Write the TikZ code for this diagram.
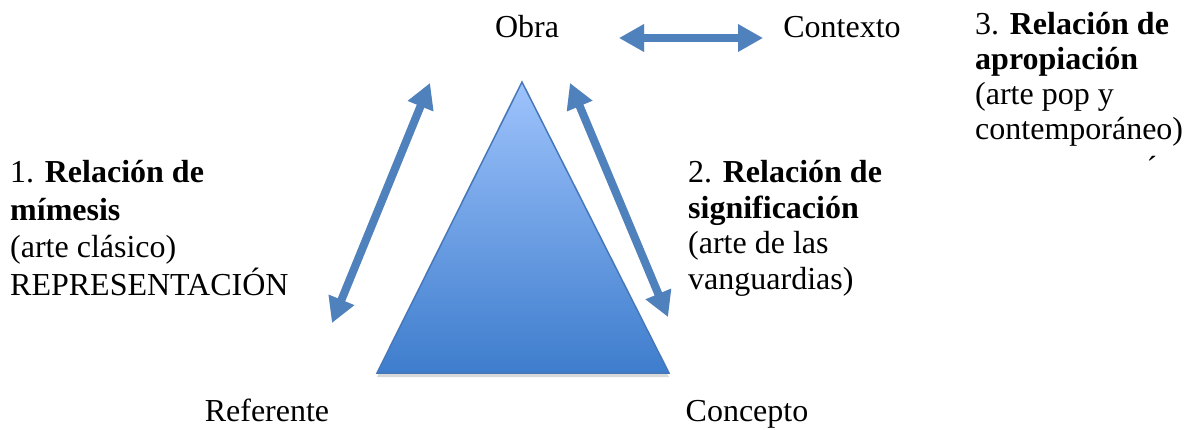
\documentclass[tikz,border=0pt]{standalone}
\usepackage{fontspec}
\setmainfont{Liberation Serif}
\usetikzlibrary{positioning}
\usetikzlibrary{arrows.meta,shadows}
\definecolor{arrowblue}{RGB}{79,129,189}
\definecolor{topblue}{RGB}{158,195,252}
\definecolor{bottomblue}{RGB}{62,125,205}
\definecolor{edgeblue}{RGB}{70,120,185}
\tikzstyle{word}=[inner sep=0pt,font=\fontsize{32}{35.5}\selectfont]
\tikzstyle{relation}=[word,align=left,anchor=base west]
\tikzstyle{blockarrow}=[draw=arrowblue,line width=8pt,{Triangle[width=26pt,length=25pt]}-{Triangle[width=26pt,length=25pt]}]
\tikzstyle{arrowshadow}=[blockarrow,draw=black,opacity=0.15,xshift=1.5pt,yshift=-3pt]

\begin{document}
\begin{tikzpicture}[x=1pt,y=-1pt]
    \useasboundingbox (0,0) rectangle (1192,429);

    % triangle
    \coordinate (apex) at (522,82);
    \coordinate (baseL) at (377,373);
    \coordinate (baseR) at (669,373);
    \path[draw=edgeblue,line width=1.5pt,top color=topblue,bottom color=bottomblue,
          drop shadow={shadow xshift=0pt,shadow yshift=-4pt,opacity=0.3}]
        (apex) -- (baseR) -- (baseL) -- cycle;

    % corners
    \foreach \pos/\name/\txt in {{(527,37)/obra/Obra}, {(842,37)/contexto/Contexto},
                                {(267,421)/referente/Referente}, {(747,421)/concepto/Concepto}}
        \node[word,anchor=base] (\name) at \pos {\txt};

    % relations (anchored on the baseline of the last line)
    \node[relation,font=\fontsize{32}{37.5}\selectfont] (mimesis) at (10,295)
        {1. \textbf{Relación de}\\\textbf{mímesis}\\(arte clásico)\\REPRESENTACIÓN};
    \node[relation] (significacion) at (688,289)
        {2. \textbf{Relación de}\\\textbf{significación}\\(arte de las\\vanguardias)};
    \node[relation,font=\fontsize{32}{35}\selectfont] (apropiacion) at (975,139)
        {3. \textbf{Relación de}\\\textbf{apropiación}\\(arte pop y\\contemporáneo)};
    \node[word,anchor=base] (acento) at (1152,178) {´};

    % arrows
    \coordinate (ctxL) at (619,38);
    \coordinate (ctxR) at (763,38);
    \coordinate (mimTop) at (430,83);
    \coordinate (mimBot) at (332,323);
    \coordinate (sigTop) at (570,83);
    \coordinate (sigBot) at (668,317);
    \foreach \source/\dest in {ctxL/ctxR, mimBot/mimTop, sigTop/sigBot}
        \draw[arrowshadow] (\source) -- (\dest);
    \foreach \source/\dest in {ctxL/ctxR, mimBot/mimTop, sigTop/sigBot}
        \draw[blockarrow] (\source) -- (\dest);

\end{tikzpicture}
\end{document}
